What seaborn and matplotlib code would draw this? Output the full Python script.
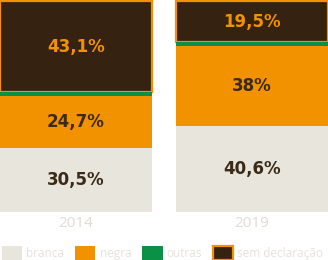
import matplotlib
matplotlib.use("Agg")
import matplotlib.pyplot as plt
import seaborn as sns
import pandas as pd
from matplotlib.patches import Patch

years = ["2014", "2019"]
categories = ["branca", "negra", "outras", "sem declaração"]
branca = [30.5, 40.6]
negra = [24.7, 38.0]
outras = [1.7, 1.9]
sem_declaracao = [43.1, 19.5]
labels_branca = ["30,5%", "40,6%"]
labels_negra = ["24,7%", "38%"]
labels_sem = ["43,1%", "19,5%"]

C_BRANCA = "#e8e6dc"
C_NEGRA = "#f39200"
C_OUTRAS = "#0a9146"
C_SEM = "#352211"
C_TEXT = "#3b2a17"
C_YEAR = "#dedcd3"
C_LEG = "#e4e2da"

sns.set_theme(style="white")
plt.rcParams["font.family"] = ["DejaVu Sans"]

fig = plt.figure(figsize=(3.28, 2.60), dpi=100)
ax = fig.add_axes([0, 48 / 260, 1, 212 / 260])

df = pd.DataFrame({"ano": years, "branca": branca, "negra": negra,
                   "outras": outras, "sem": sem_declaracao})
df["cum_b"] = df["branca"]
df["cum_n"] = df["cum_b"] + df["negra"]
df["cum_o"] = df["cum_n"] + df["outras"]

w = 152 / 176
sns.barplot(data=df, x="ano", y="sem", bottom=df["cum_o"], color=C_SEM,
            width=w, edgecolor=C_NEGRA, linewidth=1.6, saturation=1, ax=ax)
sns.barplot(data=df, x="ano", y="cum_o", color=C_OUTRAS, width=w,
            linewidth=0, saturation=1, ax=ax)
sns.barplot(data=df, x="ano", y="cum_n", color=C_NEGRA, width=w,
            linewidth=0, saturation=1, ax=ax)
sns.barplot(data=df, x="ano", y="cum_b", color=C_BRANCA, width=w,
            linewidth=0, saturation=1, ax=ax)

vfont = dict(fontsize=12, fontweight="bold", ha="center", va="center")
for i in range(len(years)):
    ax.text(i, df["cum_b"][i] / 2, labels_branca[i], color=C_TEXT, **vfont)
    ax.text(i, df["cum_b"][i] + df["negra"][i] / 2, labels_negra[i],
            color=C_TEXT, **vfont)
    ax.text(i, df["cum_o"][i] + df["sem"][i] / 2, labels_sem[i],
            color=C_NEGRA, **vfont)

ax.set_xlim(-w / 2, 1 + w / 2)
ax.set_ylim(0, 100.6)
ax.set_xlabel("")
ax.set_ylabel("")
ax.set_yticks([])
ax.tick_params(axis="x", length=0, pad=3)
for lab in ax.get_xticklabels():
    lab.set_fontfamily("Open Sans")
    lab.set_fontsize(11)
    lab.set_color(C_YEAR)
sns.despine(ax=ax, left=True, bottom=True)
ax.patch.set_alpha(0)

handles = [Patch(facecolor=C_BRANCA, edgecolor="none"),
           Patch(facecolor=C_NEGRA, edgecolor="none"),
           Patch(facecolor=C_OUTRAS, edgecolor="none"),
           Patch(facecolor=C_SEM, edgecolor=C_NEGRA, linewidth=1.6)]
leg = fig.legend(handles, categories, loc="lower left",
                 bbox_to_anchor=(2 / 328, 0.0),
                 ncol=4, frameon=False,
                 prop={"family": "Open Sans", "size": 8.5},
                 handlelength=1.7, handleheight=1.45, handletextpad=0.34,
                 columnspacing=0.95, borderpad=0, borderaxespad=0)
for t in leg.get_texts():
    t.set_color(C_LEG)

fig.savefig("out.png", dpi=100)
